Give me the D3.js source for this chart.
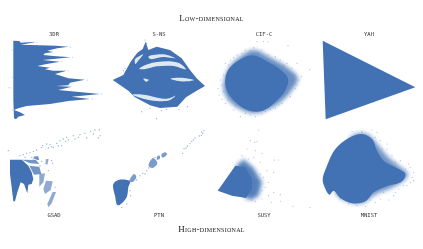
<!DOCTYPE html>
<html>
<head>
<meta charset="utf-8">
<script src="https://cdn.jsdelivr.net/npm/d3@7"></script>
<style>
html, body { margin: 0; padding: 0; background: #fff; overflow: hidden; }
</style>
</head>
<body>
<div class="chart"></div>
<script>
const w = 423;
const h = 249;
const blue = "#4272b3";

const names = ["3DR", "S-NS", "CIF-C", "YAH", "GSAD", "PTN", "SUSY", "MNIST"];
const groupTitles = ["Low-dimensional", "High-dimensional"];

// outlines and points, one unit is a third of a pixel
const dr3Body = [[40,122],[58,123],[62,128],[108,125],[80,131],[62,134],[120,136],[170,137],[205,140],[172,145],[142,152],[160,156],[135,160],[130,165],[160,168],[212,172],[160,177],[128,180],[180,185],[140,192],[112,198],[150,203],[135,208],[160,212],[200,212],[165,222],[205,235],[255,239],[210,248],[205,256],[168,258],[215,260],[175,270],[245,277],[300,282],[215,290],[270,297],[205,303],[150,312],[80,318],[55,325],[42,330],[60,337],[75,345],[55,350],[48,358],[42,355],[40,300]];
const dr3Dots = [[25,263],[32,263],[37,150],[37,232],[38,330],[90,317],[110,127],[212,141],[218,172],[262,240],[304,282],[278,297],[100,128],[185,184],[205,212]];

const snsBody = [[38,240],[70,225],[92,185],[112,158],[128,147],[137,125],[145,150],[170,140],[210,150],[245,175],[270,210],[290,235],[315,258],[290,272],[258,292],[232,320],[180,324],[150,316],[105,292],[85,272],[60,255]];
const snsGaps = [
  [[118,206],[145,192],[200,184],[238,190],[258,208],[220,198],[170,199],[132,208]],
  [[212,236],[240,233],[282,240],[260,244],[230,242]],
  [[98,284],[130,284],[200,296],[226,287],[208,301],[170,303],[130,296]],
  [[145,170],[190,163],[226,175],[190,171],[152,177]],
  [[105,178],[120,167],[130,163],[114,183],[106,192]],
  [[130,236],[146,240],[138,245]]
];
const snsDots = [[75,205],[70,212],[78,215],[85,200],[125,335],[170,356],[262,320],[237,328],[200,328],[300,262],[135,120],[140,130],[150,325],[185,332]];

const cifCore = [[52,205],[82,180],[120,166],[162,182],[204,208],[228,235],[222,268],[194,302],[152,332],[112,332],[70,306],[44,270],[40,235]];
const cifHalo = [[34,262],[50,205],[82,172],[125,150],[178,174],[232,206],[258,235],[234,278],[192,316],[130,340],[82,326],[46,296]];
const cifDots = [[18,265],[25,240],[22,285],[40,190],[55,180],[75,165],[100,150],[125,143],[150,150],[135,125],[155,124],[168,126],[228,137],[293,209],[255,190],[240,205],[268,230],[262,240],[250,265],[235,290],[210,310],[190,325],[160,335],[130,350],[85,350],[65,330],[40,310],[30,298],[205,180],[190,170],[225,190],[245,225],[255,255],[100,340],[175,328],[35,225],[30,255],[35,275],[50,195],[65,172],[90,160],[115,152],[140,160],[170,165],[215,195],[240,240],[225,280],[200,315],[150,342],[115,345],[70,318],[48,300]];

const yahBody = [[32,122],[310,262],[41,358]];

const gsadBody = [[30,107],[65,107],[85,125],[95,145],[100,165],[95,180],[85,182],[82,208],[72,180],[62,175],[52,205],[45,232],[40,232],[35,190],[30,150]];
const gsadStreaks = [
  [[65,107],[108,108],[118,120],[90,118]],
  [[88,125],[118,128],[124,150],[102,152]],
  [[100,98],[114,96],[118,108],[104,106]]
];
const gsadClusters = [
  [[138,170],[158,172],[152,198],[135,210],[130,195]],
  [[158,204],[168,204],[155,238],[145,250],[142,240]],
  [[118,150],[135,148],[130,175],[118,188]],
  [[138,105],[146,105],[142,122],[136,120]]
];
const gsadDots = [[25,80],[60,95],[70,92],[80,88],[90,85],[100,82],[110,78],[125,70],[128,65],[145,72],[150,62],[160,70],[170,58],[180,50],[185,65],[190,45],[200,40],[205,48],[220,35],[225,45],[235,40],[240,32],[255,28],[260,42],[272,22],[280,30],[285,18],[298,18],[300,35],[295,42],[155,110],[158,118],[125,112],[112,105],[95,100],[75,100],[145,140],[165,190],[120,125],[100,105],[140,60],[175,66],[155,68],[197,52]];

const ptnBody = [[40,180],[55,168],[90,172],[85,190],[80,220],[60,242],[52,243],[45,215],[40,195]];
const ptnClusters = [
  [[93,160],[103,150],[109,160],[98,174],[88,172]],
  [[150,112],[160,102],[172,118],[158,132],[146,126]],
  [[184,92],[197,85],[199,94],[188,101]],
  [[171,98],[179,95],[179,105],[171,107]]
];
const ptnDots = [[312,20],[308,28],[304,34],[298,36],[285,42],[280,48],[270,58],[262,66],[252,74],[248,88],[135,150],[140,140],[128,148],[146,132],[110,168],[90,200],[92,215],[80,240],[65,250],[200,90],[165,100],[120,155],[305,24],[275,52],[258,72]];

const susyCore = [[17,200],[70,125],[100,130],[120,165],[120,195],[102,222],[60,215]];
const susyHalo = [[72,125],[95,106],[125,132],[150,175],[140,215],[118,228],[100,222]];
const susyDots = [[140,18],[115,50],[128,55],[135,53],[105,75],[130,80],[150,88],[125,100],[145,115],[165,140],[185,145],[187,108],[200,108],[170,175],[170,215],[185,205],[205,212],[205,232],[178,235],[243,247],[294,251],[155,160],[160,190],[150,225],[130,232],[90,95],[110,105],[145,150],[150,200],[120,228]];

const mnistCore = [[32,165],[45,125],[70,75],[110,42],[150,30],[180,45],[195,80],[215,110],[250,130],[280,150],[270,172],[220,188],[185,205],[160,232],[120,238],[85,222],[65,200],[52,212],[38,190]];
const mnistHalo = [[120,36],[165,30],[198,62],[225,95],[265,128],[288,150],[278,168],[238,192],[190,212],[150,238],[105,232],[70,205]];
const mnistDots = [[180,18],[195,25],[205,50],[225,60],[240,95],[265,110],[290,120],[305,145],[295,130],[300,160],[305,170],[285,185],[260,195],[250,205],[230,228],[205,225],[190,235],[160,248],[135,245],[110,240],[85,225],[120,22],[150,22],[225,75],[280,135],[245,215],[210,75],[250,115],[275,185],[215,205],[175,228],[150,25],[190,40],[295,175]];

const svg = d3.select(".chart")
              .append("svg")
              .attr("width", w)
              .attr("height", h);

const defs = svg.append("defs");
defs.append("filter")
    .attr("id", "soft")
    .attr("x", "-5%").attr("y", "-5%").attr("width", "110%").attr("height", "110%")
    .append("feGaussianBlur")
    .attr("stdDeviation", 0.35);
defs.append("filter")
    .attr("id", "fuzz")
    .attr("x", "-30%").attr("y", "-30%").attr("width", "160%").attr("height", "160%")
    .append("feGaussianBlur")
    .attr("stdDeviation", 2.2);

const root = svg.append("g").attr("filter", "url(#soft)");

const colStart = [0, 100, 212, 312];
const rowStart = [0, 124];

// every panel has its own pair of scales, all the same size
function panel(col, row) {
  const x = d3.scaleLinear().domain([0, 300]).range([colStart[col], colStart[col] + 100]);
  const y = d3.scaleLinear().domain([0, 375]).range([rowStart[row], rowStart[row] + 125]);
  const sharp = d3.line().x(d => x(d[0])).y(d => y(d[1])).curve(d3.curveLinearClosed);
  const smooth = d3.line().x(d => x(d[0])).y(d => y(d[1])).curve(d3.curveCatmullRomClosed);
  const g = root.append("g");
  return {
    area(pts, opts) {
      opts = opts || {};
      const p = g.append("path")
                 .attr("d", (opts.smooth ? smooth : sharp)(pts))
                 .attr("fill", opts.color || blue)
                 .attr("opacity", opts.opacity || 1);
      if (opts.fuzz) p.attr("filter", "url(#fuzz)");
    },
    dots(pts, r, opacity) {
      g.selectAll(null)
       .data(pts)
       .enter()
       .append("circle")
       .attr("cx", d => x(d[0]))
       .attr("cy", d => y(d[1]))
       .attr("r", r)
       .attr("fill", blue)
       .attr("opacity", opacity);
    }
  };
}

const dr3 = panel(0, 0);
dr3.area(dr3Body);
dr3.dots(dr3Dots, 0.5, 0.5);

const sns = panel(1, 0);
sns.area(snsBody);
snsGaps.forEach(gap => sns.area(gap, {color: "#dfe7f2", smooth: true}));
sns.dots(snsDots, 0.6, 0.6);

const cif = panel(2, 0);
cif.area(cifHalo, {opacity: 0.8, smooth: true, fuzz: true});
cif.area(cifCore, {smooth: true});
cif.dots(cifDots, 0.6, 0.45);

const yah = panel(3, 0);
yah.area(yahBody);

const gsad = panel(0, 1);
gsadStreaks.forEach(c => gsad.area(c, {opacity: 0.75}));
gsad.area(gsadBody);
gsadClusters.forEach(c => gsad.area(c, {opacity: 0.6}));
gsad.dots(gsadDots, 0.7, 0.55);

const ptn = panel(1, 1);
ptn.area(ptnBody, {smooth: true});
ptnClusters.forEach(c => ptn.area(c, {opacity: 0.7, smooth: true}));
ptn.dots(ptnDots, 0.7, 0.55);

const susy = panel(2, 1);
susy.area(susyHalo, {opacity: 0.9, fuzz: true});
susy.area(susyCore);
susy.dots(susyDots, 0.6, 0.45);

const mnist = panel(3, 1);
mnist.area(mnistHalo, {opacity: 0.75, smooth: true, fuzz: true});
mnist.area(mnistCore, {smooth: true});
mnist.dots(mnistDots, 0.6, 0.45);

const labelX = [54, 159, 264, 369];
const labelY = [35.5, 217];

root.selectAll(".name")
    .data(names)
    .enter()
    .append("text")
    .attr("class", "name")
    .attr("x", (d, i) => labelX[i % 4])
    .attr("y", (d, i) => labelY[Math.floor(i / 4)])
    .attr("text-anchor", "middle")
    .attr("font-family", "'DejaVu Sans Mono', monospace")
    .attr("font-size", 5.5)
    .attr("fill", "#333")
    .text(d => d);

root.selectAll(".group")
    .data(groupTitles)
    .enter()
    .append("text")
    .attr("class", "group")
    .attr("x", 211.5)
    .attr("y", (d, i) => [21, 232][i])
    .attr("text-anchor", "middle")
    .attr("font-family", "'Liberation Serif', serif")
    .attr("font-size", 9)
    .attr("font-variant", "small-caps")
    .attr("letter-spacing", 0.3)
    .attr("fill", "#222")
    .text(d => d);
</script>
</body>
</html>
